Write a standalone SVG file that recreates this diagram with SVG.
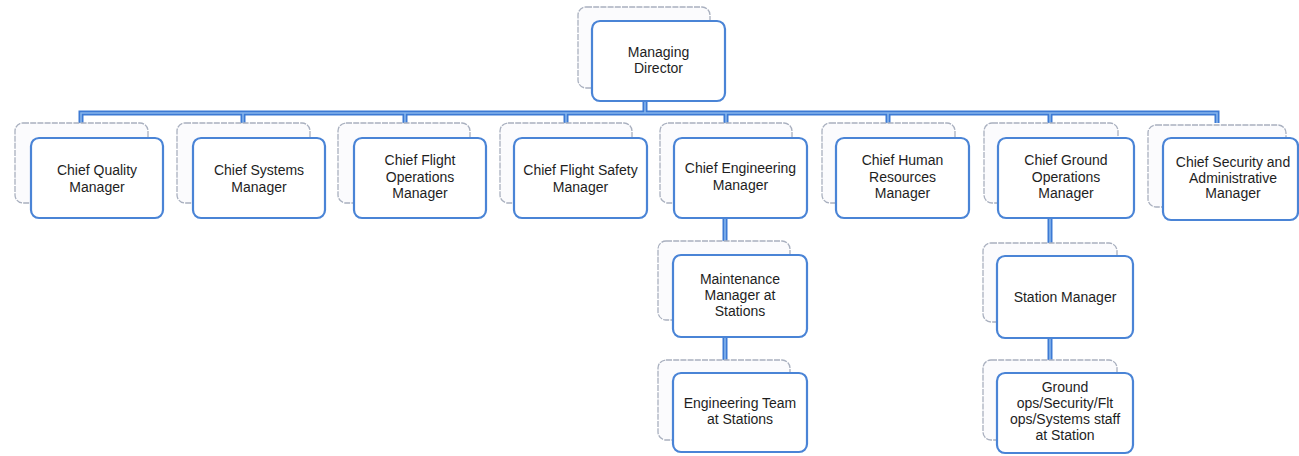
<svg xmlns="http://www.w3.org/2000/svg" xmlns:xlink="http://www.w3.org/1999/xlink" width="1299" height="456" viewBox="0 0 1299 456">
  <style>
    .shadow { fill: #fbfbfd; stroke: #a9b0bf; stroke-width: 1.3; stroke-dasharray: 6 1.2; }
    .box { fill: #ffffff; stroke: #4a84d6; stroke-width: 2.2; }
    .label { font-family: "Liberation Sans", Arial, sans-serif; font-size: 14px; fill: #1e1e1e; text-anchor: middle; }
    .wire-edge { fill: none; stroke: #3d7ad4; stroke-width: 5; }
    .wire-core { fill: none; stroke: #86b5ec; stroke-width: 1.6; }
  </style>
  <defs>
    <path id="wires" d="M81,123 V113 H1217 V123 M243,113 V123 M405,113 V123 M566,113 V123 M726,113 V123 M888,113 V123 M1050,113 V123 M645,101 V113 M725,218 V241 M725,337 V360 M1050,218 V243 M1050,338 V360"/>
  </defs>

  <rect width="1299" height="456" fill="#ffffff"/>

  <!-- connectors -->
  <g id="connectors">
    <use xlink:href="#wires" class="wire-edge"/>
    <use xlink:href="#wires" class="wire-core"/>
  </g>

  <!-- top level -->
  <g id="managing-director">
    <rect class="shadow" x="578" y="7" width="132" height="81" rx="8"/>
    <rect class="box" x="592" y="21" width="133" height="80" rx="8"/>
    <text class="label" x="658.5" y="57">Managing</text>
    <text class="label" x="658.5" y="73">Director</text>
  </g>

  <!-- chiefs -->
  <g id="chief-quality">
    <rect class="shadow" x="15" y="123" width="133" height="80" rx="8"/>
    <rect class="box" x="31" y="138" width="132" height="80" rx="8"/>
    <text class="label" x="97" y="175">Chief Quality</text>
    <text class="label" x="97" y="191.5">Manager</text>
  </g>
  <g id="chief-systems">
    <rect class="shadow" x="177" y="123" width="133" height="80" rx="8"/>
    <rect class="box" x="193" y="138" width="132" height="80" rx="8"/>
    <text class="label" x="259" y="175">Chief Systems</text>
    <text class="label" x="259" y="191.5">Manager</text>
  </g>
  <g id="chief-flight-ops">
    <rect class="shadow" x="338" y="123" width="132" height="80" rx="8"/>
    <rect class="box" x="354" y="138" width="132" height="80" rx="8"/>
    <text class="label" x="420" y="165">Chief Flight</text>
    <text class="label" x="420" y="181.5">Operations</text>
    <text class="label" x="420" y="198">Manager</text>
  </g>
  <g id="chief-flight-safety">
    <rect class="shadow" x="500" y="123" width="132" height="80" rx="8"/>
    <rect class="box" x="514" y="138" width="133" height="80" rx="8"/>
    <text class="label" x="580.5" y="175">Chief Flight Safety</text>
    <text class="label" x="580.5" y="191.5">Manager</text>
  </g>
  <g id="chief-engineering">
    <rect class="shadow" x="660" y="123" width="132" height="80" rx="8"/>
    <rect class="box" x="674" y="138" width="133" height="80" rx="8"/>
    <text class="label" x="740.5" y="173">Chief Engineering</text>
    <text class="label" x="740.5" y="189.5">Manager</text>
  </g>
  <g id="chief-human-resources">
    <rect class="shadow" x="822" y="123" width="133" height="80" rx="8"/>
    <rect class="box" x="836" y="138" width="133" height="80" rx="8"/>
    <text class="label" x="902.5" y="165">Chief Human</text>
    <text class="label" x="902.5" y="181.5">Resources</text>
    <text class="label" x="902.5" y="198">Manager</text>
  </g>
  <g id="chief-ground-ops">
    <rect class="shadow" x="984" y="123" width="134" height="80" rx="8"/>
    <rect class="box" x="998" y="138" width="136" height="80" rx="8"/>
    <text class="label" x="1066" y="165">Chief Ground</text>
    <text class="label" x="1066" y="181.5">Operations</text>
    <text class="label" x="1066" y="198">Manager</text>
  </g>
  <g id="chief-security-admin">
    <rect class="shadow" x="1148" y="125" width="138" height="82" rx="8"/>
    <rect class="box" x="1163" y="138" width="135" height="82" rx="8"/>
    <text class="label" x="1233" y="167">Chief Security and</text>
    <text class="label" x="1233" y="182.5">Administrative</text>
    <text class="label" x="1233" y="198">Manager</text>
  </g>

  <!-- engineering branch -->
  <g id="maintenance-manager">
    <rect class="shadow" x="658" y="241" width="132" height="79" rx="8"/>
    <rect class="box" x="673" y="255" width="134" height="82" rx="8"/>
    <text class="label" x="740" y="284">Maintenance</text>
    <text class="label" x="740" y="300">Manager at</text>
    <text class="label" x="740" y="316">Stations</text>
  </g>
  <g id="engineering-team">
    <rect class="shadow" x="658" y="360" width="132" height="80" rx="8"/>
    <rect class="box" x="673" y="373" width="134" height="79" rx="8"/>
    <text class="label" x="740" y="408">Engineering Team</text>
    <text class="label" x="740" y="424">at Stations</text>
  </g>

  <!-- ground operations branch -->
  <g id="station-manager">
    <rect class="shadow" x="983" y="243" width="134" height="79" rx="8"/>
    <rect class="box" x="997" y="256" width="136" height="82" rx="8"/>
    <text class="label" x="1065" y="302">Station Manager</text>
  </g>
  <g id="station-staff">
    <rect class="shadow" x="983" y="360" width="134" height="80" rx="8"/>
    <rect class="box" x="997" y="373" width="136" height="80" rx="8"/>
    <text class="label" x="1065" y="392">Ground</text>
    <text class="label" x="1065" y="408">ops/Security/Flt</text>
    <text class="label" x="1065" y="424">ops/Systems staff</text>
    <text class="label" x="1065" y="440">at Station</text>
  </g>
</svg>
